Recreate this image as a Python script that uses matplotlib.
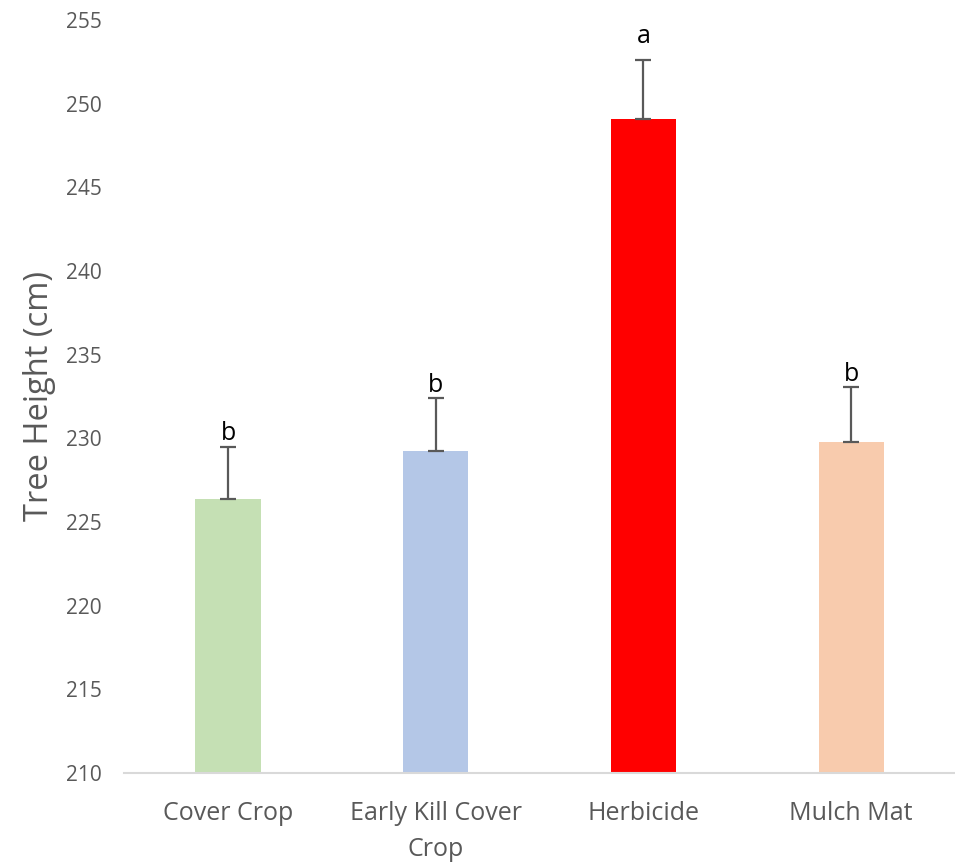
import matplotlib
matplotlib.use("Agg")
import matplotlib.pyplot as plt

categories = ["Cover Crop", "Early Kill Cover\nCrop", "Herbicide", "Mulch Mat"]
means = [226.4, 229.25, 249.1, 229.8]
errors = [3.1, 3.15, 3.5, 3.25]
letters = ["b", "b", "a", "b"]
colors = ["#C5E0B4", "#B4C7E7", "#FF0000", "#F8CBAD"]
yticks = [210, 215, 220, 225, 230, 235, 240, 245, 250, 255]

plt.rcParams["font.family"] = ["Open Sans", "DejaVu Sans"]

fig = plt.figure(figsize=(9.55, 8.65), dpi=100)
ax = fig.add_axes([0.130, 0.1064, 0.870, 0.8705])

x = list(range(len(categories)))
ax.bar(x, [m - 210 for m in means], bottom=210, width=0.313, color=colors, zorder=2)
ax.errorbar(x, means, yerr=[[0] * len(errors), errors], fmt="none",
            ecolor="#595959", elinewidth=1.6, capsize=6, capthick=1.6, zorder=3)

offsets = [4.5, 4.5, 12.5, 4.5]
for xi, m, e, lab, off in zip(x, means, errors, letters, offsets):
    ax.annotate(lab, (xi, m + e), xytext=(0, off), textcoords="offset points",
                ha="center", va="baseline", fontsize=18, color="black")

ax.set_xlim(-0.5, 3.5)
ax.set_ylim(210, 255)
ax.set_yticks(yticks)
ax.set_xticks(x)
ax.set_xticklabels(categories, fontsize=18, color="#595959", linespacing=1.6)
ax.tick_params(axis="y", labelsize=15, colors="#595959", length=0, pad=16)
ax.tick_params(axis="x", length=0, pad=20)

for s in ["top", "right", "left"]:
    ax.spines[s].set_visible(False)
ax.spines["bottom"].set_color("#D9D9D9")
ax.spines["bottom"].set_linewidth(1.5)

ax.set_ylabel("Tree Height (cm)", fontsize=23.5, color="#595959", labelpad=0)
ax.yaxis.set_label_coords(-0.082, 0.5)

fig.savefig("out.png", dpi=100)
